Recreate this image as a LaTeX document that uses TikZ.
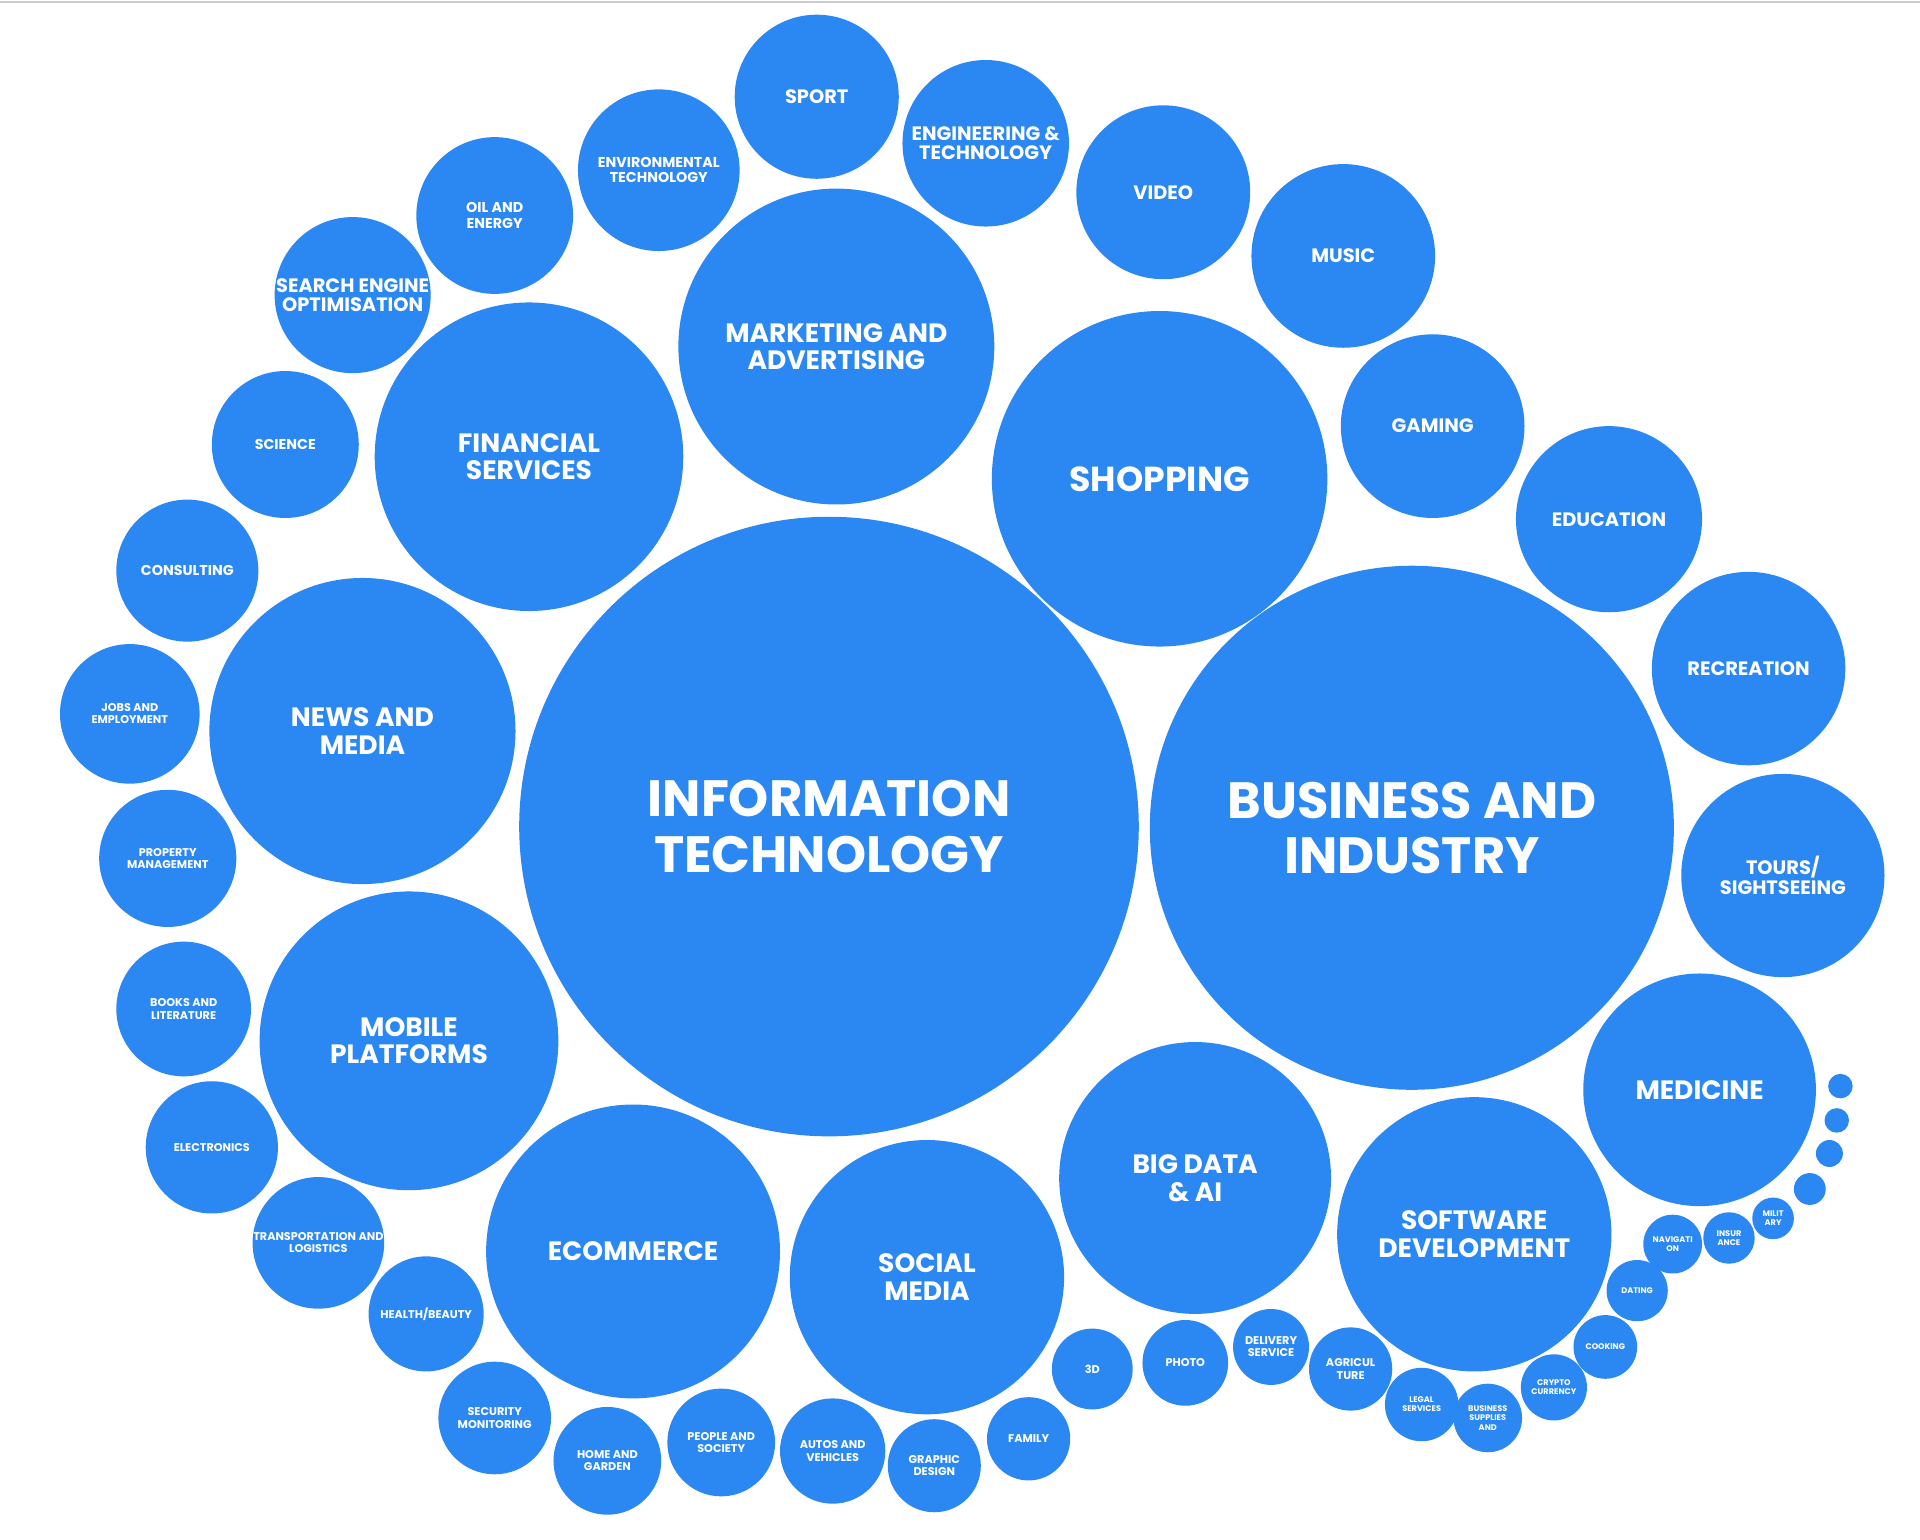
\documentclass[tikz,border=0pt]{standalone}
\usepackage{fontspec}
\setmainfont{Poppins}
\definecolor{bub}{HTML}{2B88F3}
\begin{document}
\begin{tikzpicture}[x=0.6pt,y=-0.6pt,
  b/.style={circle,fill=bub,inner sep=0pt,text=white,align=center,font=\bfseries},
  fa/.style={font=\bfseries\fontsize{25}{27}\selectfont},
  fb/.style={font=\bfseries\fontsize{17}{17}\selectfont},
  fc/.style={font=\bfseries\fontsize{13}{13.5}\selectfont},
  fd/.style={font=\bfseries\fontsize{9.5}{9.5}\selectfont},
  fe/.style={font=\bfseries\fontsize{7}{7.5}\selectfont},
  ff/.style={font=\bfseries\fontsize{5.5}{6}\selectfont},
  fg/.style={font=\bfseries\fontsize{4}{4.5}\selectfont}]
\newcommand\bb[6]{\node[b,#6,minimum size=#4*1.2pt] (#1) at (#2,#3) {#5};}
\useasboundingbox (0,0) rectangle (1568,1257.6);
\fill[white] (0,0) rectangle (1568,1257.6);
\draw[gray!40,line width=1pt] (0,2) -- (1568,2);
\bb{it}{677}{675}{253}{INFORMATION\\TECHNOLOGY}{fa}
\bb{bi}{1153}{676}{214}{BUSINESS AND\\INDUSTRY}{fa}
\bb{shop}{947}{391}{137}{SHOPPING}{fb}
\bb{mkt}{683}{283}{129}{MARKETING AND\\ADVERTISING}{fc}
\bb{fin}{432}{373}{126}{FINANCIAL\\SERVICES}{fc}
\bb{news}{296}{597}{125}{NEWS AND\\MEDIA}{fc}
\bb{mob}{334}{850}{122}{MOBILE\\PLATFORMS}{fc}
\bb{ecom}{517}{1022}{120}{ECOMMERCE}{fc}
\bb{soc}{757}{1043}{112}{SOCIAL\\MEDIA}{fc}
\bb{big}{976}{962}{111}{BIG DATA\\\& AI}{fc}
\bb{soft}{1204}{1008}{112}{SOFTWARE\\DEVELOPMENT}{fc}
\bb{med}{1388}{890}{95}{MEDICINE}{fc}
\bb{tour}{1456}{715}{83}{TOURS/\\SIGHTSEEING}{fd}
\bb{rec}{1428}{546}{79}{RECREATION}{fd}
\bb{edu}{1314}{424}{76}{EDUCATION}{fd}
\bb{gam}{1170}{348}{75}{GAMING}{fd}
\bb{mus}{1097}{209}{75}{MUSIC}{fd}
\bb{vid}{950}{157}{71}{VIDEO}{fd}
\bb{eng}{805}{117}{68}{ENGINEERING \&\\TECHNOLOGY}{fd}
\bb{spo}{667}{79}{67}{SPORT}{fd}
\bb{env}{538}{139}{66}{ENVIRONMENTAL\\TECHNOLOGY}{fe}
\bb{oil}{404}{176}{64}{OIL AND\\ENERGY}{fe}
\bb{seo}{288}{241}{63}{SEARCH ENGINE\\OPTIMISATION}{fd}
\bb{sci}{233}{363}{60}{SCIENCE}{fe}
\bb{con}{153}{466}{58}{CONSULTING}{fe}
\bb{job}{106}{583}{57}{JOBS AND\\EMPLOYMENT}{ff}
\bb{prop}{137}{701}{56}{PROPERTY\\MANAGEMENT}{ff}
\bb{book}{150}{824}{55}{BOOKS AND\\LITERATURE}{ff}
\bb{ele}{173}{937}{54}{ELECTRONICS}{ff}
\bb{tra}{260}{1015}{53}{TRANSPORTATION AND\\LOGISTICS}{ff}
\bb{hea}{348}{1073}{47}{HEALTH/BEAUTY}{ff}
\bb{sec}{404}{1158}{46}{SECURITY\\MONITORING}{ff}
\bb{home}{496}{1193}{44}{HOME AND\\GARDEN}{ff}
\bb{peo}{589}{1178}{44}{PEOPLE AND\\SOCIETY}{ff}
\bb{aut}{680}{1185}{43}{AUTOS AND\\VEHICLES}{ff}
\bb{gra}{763}{1197}{38}{GRAPHIC\\DESIGN}{ff}
\bb{fam}{840}{1175}{34}{FAMILY}{ff}
\bb{3d}{892}{1118}{33}{3D}{ff}
\bb{pho}{968}{1113}{35}{PHOTO}{ff}
\bb{del}{1038}{1100}{31}{DELIVERY\\SERVICE}{ff}
\bb{agr}{1103}{1118}{34}{AGRICUL\\TURE}{ff}
\bb{leg}{1161}{1147}{30}{LEGAL\\SERVICES}{fg}
\bb{bus}{1215}{1158}{28}{BUSINESS\\SUPPLIES\\AND}{fg}
\bb{cry}{1269}{1133}{27}{CRYPTO\\CURRENCY}{fg}
\bb{coo}{1311}{1100}{26}{COOKING}{fg}
\bb{dat}{1337}{1054}{25}{DATING}{fg}
\bb{nav}{1366}{1016}{24}{NAVIGATI\\ON}{fg}
\bb{ins}{1412}{1011}{21}{INSUR\\ANCE}{fg}
\bb{mil}{1448}{995}{17}{MILIT\\ARY}{fg}
\bb{t1}{1478}{971}{13}{}{fg}
\bb{t2}{1494}{942}{11}{}{fg}
\bb{t3}{1500}{915}{10}{}{fg}
\bb{t4}{1503}{887}{10}{}{fg}
\end{tikzpicture}
\end{document}
